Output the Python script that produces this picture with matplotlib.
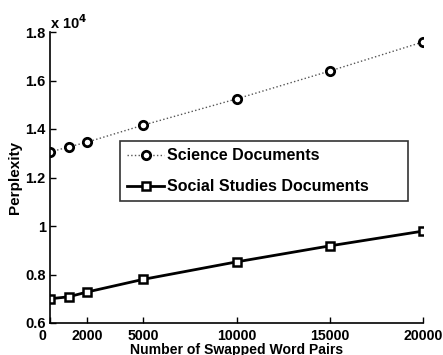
import matplotlib
matplotlib.use("Agg")
import matplotlib.pyplot as plt
from matplotlib.ticker import FuncFormatter
import matplotlib.transforms as mtransforms

plt.rcParams['font.family'] = ['Liberation Sans', 'DejaVu Sans']
plt.rcParams['font.weight'] = 'bold'

swaps = [0, 1000, 2000, 5000, 10000, 15000, 20000]
science = [13050, 13260, 13460, 14160, 15240, 16390, 17590]
social = [7000, 7080, 7280, 7800, 8520, 9180, 9790]
x_ticks = [0, 2000, 5000, 10000, 15000, 20000]
y_ticks = [6000, 8000, 10000, 12000, 14000, 16000, 18000]

fig = plt.figure(figsize=(4.43, 3.55), dpi=100)
ax = fig.add_axes([50/443, 1-323/355, 373/443, 291/355])

ax.plot(swaps, science, linestyle=':', color='#555555', linewidth=1.0,
        marker='o', markersize=6, markerfacecolor='white', markeredgecolor='black',
        markeredgewidth=2, label='Science Documents')
ax.plot(swaps, social, linestyle='-', color='black', linewidth=2,
        marker='s', markersize=5.5, markerfacecolor='white', markeredgecolor='black',
        markeredgewidth=1.8, label='Social Studies Documents')

ax.set_xlim(0, 20000)
ax.set_ylim(6000, 18000)
ax.set_xticks(x_ticks)
ax.set_yticks(y_ticks)

def yfmt(v, pos):
    s = f"{v/1e4:.1f}"
    if s.endswith('.0'):
        s = s[:-2]
    return s
ax.yaxis.set_major_formatter(FuncFormatter(yfmt))
ax.xaxis.set_major_formatter(FuncFormatter(lambda v, p: f"{int(v)}"))

for s in ['top', 'right']:
    ax.spines[s].set_visible(False)
for s in ['left', 'bottom']:
    ax.spines[s].set_linewidth(1.2)
ax.tick_params(direction='in', length=4, width=1, labelsize=10.5, pad=3)
ax.tick_params(axis='x', pad=4, labelsize=10.2)

# shift the "0" x tick label a bit left as in the reference
lbls = ax.get_xticklabels()
off = mtransforms.ScaledTranslation(-8/100, 0, fig.dpi_scale_trans)
lbls[0].set_transform(lbls[0].get_transform() + off)

ax.text(0.0, 1.0, r'x 10$^{4}$', transform=ax.transAxes, fontsize=10.5,
        fontweight='bold', ha='left', va='bottom')

ax.set_xlabel('Number of Swapped Word Pairs', fontsize=10.1, fontweight='bold')
ax.xaxis.set_label_coords(0.5, (323-343)/291)
ax.set_ylabel('Perplexity', fontsize=11, fontweight='bold')
ax.yaxis.set_label_coords(-(50-22)/373, 0.5)

bx0 = (120-50)/373
bx1 = (408-50)/373
by1 = (323-141)/291
by0 = (323-198)/291
leg = ax.legend(loc='upper left', bbox_to_anchor=(bx0, by0, bx1-bx0, by1-by0),
                mode='expand', frameon=True, fancybox=False, borderpad=0.45,
                handlelength=2.3, handletextpad=0.2, labelspacing=1.0,
                borderaxespad=0, prop={'weight': 'bold', 'size': 11.5})
leg.get_frame().set_edgecolor('black')
leg.get_frame().set_linewidth(1.2)

fig.savefig('out.png', dpi=100)
